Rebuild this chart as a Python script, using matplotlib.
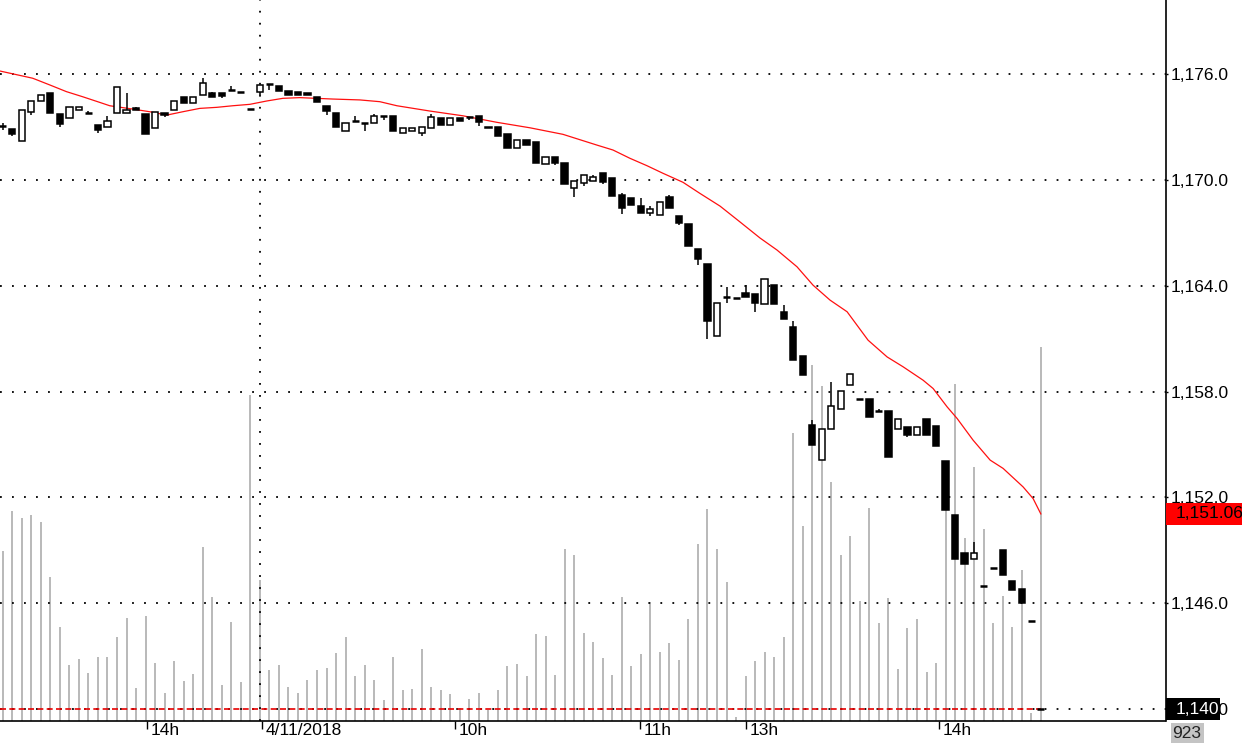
import matplotlib
matplotlib.use("Agg")
import matplotlib.pyplot as plt
from matplotlib.patches import Rectangle
from matplotlib.transforms import offset_copy

plt.rcParams["font.family"] = ["Liberation Sans", "DejaVu Sans"]

# 3-minute bars, two sessions (4/10 afternoon -> 4/11)
opens = [1173.05, 1172.9, 1172.2, 1173.86, 1174.47, 1174.9, 1173.71, 1173.52, 1173.96, 1173.77,
         1173.1, 1173.0, 1173.77, 1173.77, 1174.06, 1173.71, 1172.92, 1173.77, 1173.94, 1174.71,
         1174.34, 1174.81, 1174.9, 1174.94, 1175.09, 1175.0, 1174.0, 1175.0, 1175.44, 1175.32,
         1175.04, 1175.0, 1174.9, 1174.71, 1174.2, 1173.8, 1172.77, 1173.33, 1173.24, 1173.2,
         1173.6, 1173.63, 1172.68, 1172.79, 1172.64, 1172.92, 1173.52, 1173.1, 1173.52, 1173.58,
         1173.62, 1173.0, 1173.0, 1172.6, 1171.83, 1172.26, 1172.16, 1170.88, 1171.31, 1170.97,
         1169.52, 1169.8, 1169.95, 1170.37, 1170.12, 1169.14, 1168.99, 1168.51, 1168.1, 1168.0,
         1169.04, 1167.96, 1167.47, 1166.07, 1165.2, 1161.16, 1163.34, 1163.32, 1163.6, 1163.5,
         1162.95, 1164.03, 1162.52, 1161.63, 1160.0, 1156.09, 1154.1, 1155.9, 1156.99, 1158.36,
         1157.57, 1157.55, 1156.9, 1156.9, 1155.86, 1156.0, 1155.56, 1156.43, 1156.03, 1154.07,
         1150.99, 1148.87, 1148.49, 1146.98, 1148.02, 1149.04, 1147.26, 1146.83, 1144.99, 1140.0]
highs = [1173.2, 1172.9, 1173.96, 1174.47, 1174.8, 1174.9, 1173.71, 1174.15, 1174.15, 1173.9,
         1173.1, 1173.63, 1175.28, 1174.9, 1174.12, 1173.71, 1173.86, 1173.77, 1174.47, 1174.71,
         1174.71, 1175.76, 1175.0, 1174.94, 1175.32, 1175.0, 1174.0, 1175.38, 1175.44, 1175.32,
         1175.04, 1175.0, 1174.9, 1174.71, 1174.2, 1173.8, 1173.2, 1173.6, 1173.24, 1173.73,
         1173.6, 1173.63, 1172.96, 1172.96, 1173.0, 1173.73, 1173.52, 1173.52, 1173.52, 1173.58,
         1173.62, 1173.0, 1173.0, 1172.6, 1172.26, 1172.26, 1172.16, 1171.31, 1171.31, 1170.97,
         1169.93, 1170.27, 1170.27, 1170.37, 1170.12, 1169.24, 1168.99, 1168.95, 1168.5, 1168.76,
         1169.14, 1167.96, 1167.47, 1166.07, 1165.2, 1162.99, 1163.9, 1163.32, 1164.03, 1163.5,
         1164.35, 1164.03, 1162.9, 1161.99, 1160.0, 1156.41, 1155.9, 1158.55, 1158.04, 1158.98,
         1157.57, 1157.55, 1157.0, 1156.9, 1156.43, 1156.0, 1156.0, 1156.43, 1156.03, 1154.07,
         1150.99, 1148.87, 1149.47, 1146.98, 1148.02, 1149.04, 1147.26, 1146.83, 1144.99, 1140.0]
lows = [1172.8, 1172.5, 1172.2, 1173.67, 1174.47, 1173.77, 1173.0, 1173.52, 1173.96, 1173.77,
        1172.65, 1173.0, 1173.77, 1173.77, 1173.94, 1172.58, 1172.92, 1173.58, 1173.94, 1174.34,
        1174.34, 1174.81, 1174.71, 1174.62, 1175.09, 1175.0, 1174.0, 1174.81, 1175.1, 1175.04,
        1174.81, 1174.81, 1174.81, 1174.43, 1173.67, 1173.0, 1172.77, 1173.33, 1172.77, 1173.2,
        1173.4, 1172.77, 1172.68, 1172.79, 1172.5, 1172.92, 1173.1, 1173.1, 1173.35, 1173.4,
        1173.07, 1172.92, 1172.48, 1171.83, 1171.83, 1171.97, 1170.94, 1170.88, 1170.84, 1169.76,
        1169.04, 1169.66, 1169.95, 1169.74, 1169.08, 1168.05, 1168.57, 1168.13, 1167.97, 1168.0,
        1168.38, 1167.44, 1166.26, 1165.17, 1161.0, 1161.16, 1163.03, 1163.32, 1163.34, 1162.52,
        1162.95, 1162.95, 1162.09, 1159.78, 1158.93, 1154.96, 1154.1, 1155.9, 1156.99, 1158.36,
        1157.57, 1156.56, 1156.9, 1154.26, 1155.86, 1155.43, 1155.56, 1155.52, 1154.92, 1151.27,
        1148.53, 1148.21, 1148.49, 1146.98, 1148.02, 1147.62, 1146.77, 1146.0, 1144.99, 1140.0]
closes = [1173.05, 1172.6, 1173.96, 1174.47, 1174.8, 1173.77, 1173.15, 1174.15, 1174.15, 1173.77,
          1172.8, 1173.33, 1175.28, 1173.94, 1173.94, 1172.58, 1173.86, 1173.68, 1174.47, 1174.34,
          1174.71, 1175.47, 1174.71, 1174.77, 1175.09, 1175.0, 1174.0, 1175.38, 1175.44, 1175.04,
          1174.81, 1174.81, 1174.81, 1174.43, 1173.9, 1173.0, 1173.2, 1173.33, 1173.24, 1173.63,
          1173.6, 1172.77, 1172.96, 1172.96, 1173.0, 1173.58, 1173.1, 1173.52, 1173.35, 1173.58,
          1173.26, 1172.92, 1172.48, 1171.83, 1172.26, 1171.97, 1170.94, 1171.31, 1170.94, 1169.76,
          1169.93, 1170.27, 1170.18, 1169.86, 1169.08, 1168.38, 1168.57, 1168.13, 1168.34, 1168.76,
          1168.38, 1167.53, 1166.26, 1165.5, 1162.0, 1162.99, 1163.34, 1163.32, 1163.34, 1162.99,
          1164.35, 1162.95, 1162.09, 1159.78, 1158.93, 1154.96, 1155.9, 1157.19, 1158.04, 1158.98,
          1157.57, 1156.56, 1156.9, 1154.26, 1156.43, 1155.52, 1156.0, 1155.52, 1154.92, 1151.27,
          1148.53, 1148.21, 1148.87, 1146.98, 1148.02, 1147.62, 1146.77, 1146.0, 1144.99, 1140.0]
volumes = [420, 519, 500, 509, 490, 356, 231, 138, 153, 119,
           159, 157, 208, 255, 81, 260, 142, 68, 148, 99,
           115, 430, 305, 89, 245, 96, 804, 348, 126, 138,
           85, 70, 101, 126, 130, 167, 208, 111, 138, 101,
           52, 157, 77, 78, 177, 84, 77, 66, 31, 54,
           69, 27, 77, 136, 140, 111, 214, 210, 114, 425,
           410, 217, 195, 155, 114, 307, 136, 166, 293, 171,
           192, 151, 251, 437, 524, 425, 344, 10, 111, 147,
           171, 158, 208, 710, 480, 878, 827, 589, 410, 455,
           295, 526, 241, 303, 128, 229, 251, 121, 144, 544,
           832, 452, 626, 474, 241, 309, 231, 373, 20, 923]

# moving average (bar position, value)
ma_pos = [-0.3, 3.15, 4.94, 6.69, 8.4, 10.19, 11.24, 13.66, 15.44, 17.23,
          18.91, 20.69, 22.48, 24.16, 25.95, 27.73, 29.41, 31.2, 34.66, 37.5,
          39.6, 41.39, 44.85, 48.32, 51.89, 55.36, 58.82, 62.39, 64.08, 65.86,
          67.65, 69.33, 71.43, 73.21, 75.32, 77.42, 79.52, 81.3, 83.4, 85.08,
          86.87, 88.66, 90.86, 92.86, 94.54, 96.64, 97.69, 99.16, 100.21, 101.89,
          103.68, 105.04, 107.14, 108.19, 109.0]
ma_vals = [1176.17, 1175.76, 1175.38, 1175.0, 1174.71, 1174.39, 1174.2, 1174.01, 1173.86, 1173.67,
           1173.86, 1174.05, 1174.11, 1174.2, 1174.28, 1174.47, 1174.62, 1174.66, 1174.58, 1174.53,
           1174.43, 1174.2, 1173.9, 1173.63, 1173.26, 1172.95, 1172.58, 1171.97, 1171.69, 1171.22,
           1170.8, 1170.37, 1169.86, 1169.23, 1168.51, 1167.61, 1166.7, 1166.02, 1165.07, 1164.03,
           1163.18, 1162.52, 1160.91, 1159.96, 1159.4, 1158.64, 1158.17, 1157.13, 1156.47, 1155.24,
           1154.11, 1153.64, 1152.59, 1151.93, 1151.06]

price_ticks = [1140, 1146, 1152, 1158, 1164, 1170, 1176]
time_pos = [15.15, 27.2, 47.5, 66.9, 78.05, 98.3]
time_labels = ["14h", "4/11/2018", "10h", "11h", "13h", "14h"]
day_break = 27
last_price = 1140.0
last_ma = 1151.06
last_volume = 923

W, H = 1242, 745
AX_RIGHT, AX_BOTTOM = 1165.5, 721
FS = 12.5
dots = (0, (1, 5.65))

fig = plt.figure(figsize=(W / 100, H / 100), dpi=100)
fig.patch.set_facecolor("white")
ax = fig.add_axes([0, (H - AX_BOTTOM) / H, AX_RIGHT / W, AX_BOTTOM / H])
ax_vol = ax.twinx()
ax.set_zorder(ax_vol.get_zorder() + 1)
ax.patch.set_visible(False)

# volume
idx = list(range(len(closes)))
ax_vol.vlines(idx, 0, volumes, color="#b9b9b9", lw=1.4)
ax_vol.set_ylim(0, 1778)
ax_vol.set_yticks([])
for s in ax_vol.spines.values():
    s.set_visible(False)

# grid
for p in price_ticks:
    ax.axhline(p, color="black", lw=1.3, linestyle=dots, zorder=1)
ax.axvline(day_break, color="black", lw=1.3, linestyle=dots, zorder=1)

# last price line
ax.hlines(last_price, -0.3, idx[-1], colors="#e60000", lw=1.2,
          linestyles=(0, (3.6, 2)), zorder=2)

# moving average
ax.plot(ma_pos, ma_vals, color="#ff1010", lw=0.9, zorder=2)

# candles
for i, (o, h, l, c) in enumerate(zip(opens, highs, lows, closes)):
    if h > max(o, c) or l < min(o, c):
        ax.vlines(i, l, h, color="black", lw=1.1, zorder=3)
    if o == c:
        ax.hlines(o, i - 0.37, i + 0.37, color="black", lw=1.8, zorder=4)
    else:
        face = "white" if c > o else "black"
        ax.add_patch(Rectangle((i - 0.33, min(o, c)), 0.66, abs(c - o),
                               facecolor=face, edgecolor="black", lw=1.1, zorder=4))

ax.set_xlim(-0.283, 122.09)
ax.set_ylim(1139.32, 1180.195)

# axes frame
ax.spines["top"].set_visible(False)
ax.spines["left"].set_visible(False)
ax.spines["bottom"].set_linewidth(1.2)
ax.spines["right"].set_linewidth(1.2)

# price axis on the right
ax.yaxis.tick_right()
ax.set_yticks(price_ticks)
ax.set_yticklabels([f"{p:,.1f}" for p in price_ticks])
ax.tick_params(axis="y", length=1.5, width=1, pad=2, labelsize=FS, colors="black")

# time axis
ax.set_xticks(time_pos)
ax.tick_params(axis="x", length=6, width=1, direction="out", labelbottom=False)
lab_tr = offset_copy(ax.get_xaxis_transform(), fig=fig, x=4, y=-2, units="dots")
for pos, lab in zip(time_pos, time_labels):
    ax.text(pos, 0, lab, transform=lab_tr, ha="left", va="top", fontsize=FS,
            color="black", clip_on=False)

# value flags on the price axis (the last-price flag sits over the 1,140.0 label, as in the source)
ytr = ax.get_yaxis_transform()
ax.add_patch(Rectangle((1.0, last_ma - 0.62), 80 / AX_RIGHT, 1.24, transform=ytr,
                       facecolor="#ff0000", edgecolor="none", clip_on=False, zorder=10))
ax.text(1.0 + 10 / AX_RIGHT, last_ma, f"{last_ma:,.2f}", transform=ytr, ha="left",
        va="center", fontsize=FS, color="black", clip_on=False, zorder=11)
ax.add_patch(Rectangle((1.0, last_price - 0.62), 54.5 / AX_RIGHT, 1.24, transform=ytr,
                       facecolor="black", edgecolor="none", clip_on=False, zorder=10))
ax.text(1.0 + 10 / AX_RIGHT, last_price, f"{last_price:,.0f}", transform=ytr, ha="left",
        va="center", fontsize=FS, color="white", clip_on=False, zorder=11)

# volume flag under the axis
fig.add_artist(Rectangle((1170.5 / W, 2 / H), 33 / W, 20 / H, transform=fig.transFigure,
                         facecolor="#c4c4c4", edgecolor="none"))
fig.text(1187 / W, 12 / H, str(last_volume), ha="center", va="center", fontsize=FS,
         color="#222222")

fig.savefig("out.png", dpi=100, facecolor="white")
